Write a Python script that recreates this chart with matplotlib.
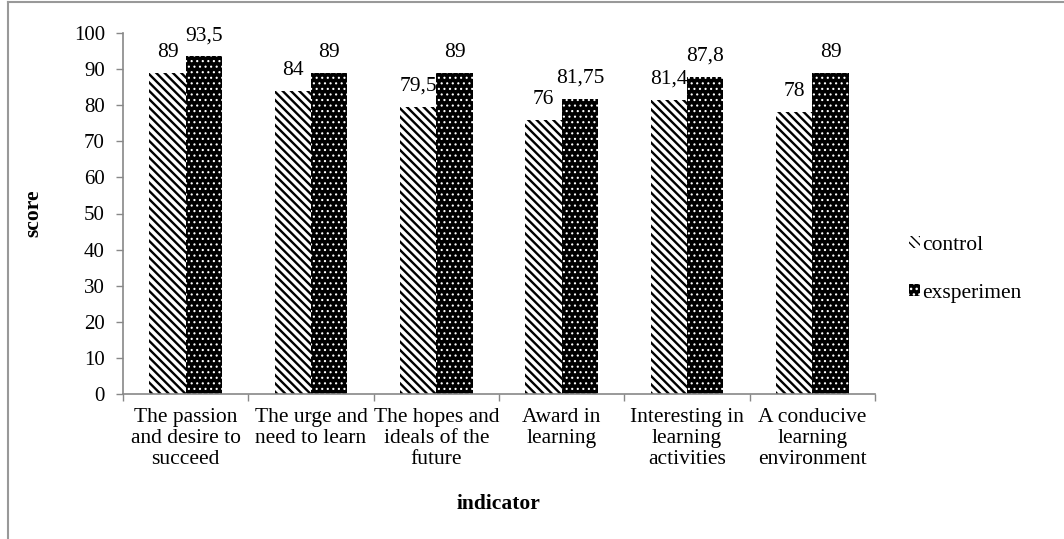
import matplotlib
matplotlib.use('Agg')
import matplotlib.pyplot as plt
import numpy as np
from matplotlib.lines import Line2D

categories = ['The passion\nand desire to\nsucceed', 'The urge and\nneed to learn',
              'The hopes and\nideals of the\nfuture', 'Award in\nlearning',
              'Interesting in\nlearning\nactivities', 'A conducive\nlearning\nenvironment']
control = [89, 84, 79.5, 76, 81.4, 78]
eksperimen = [93.5, 89, 89, 81.75, 87.8, 89]
series_names = ['control', 'exsperimen']
yticks = list(range(0, 101, 10))

plt.rcParams['font.family'] = ['Liberation Serif', 'DejaVu Serif']
fs = 15.5

fig = plt.figure(figsize=(10.64, 5.39), dpi=100)
ax = fig.add_axes([123/1064, 1 - 394/539, 752/1064, 361/539])

x = np.arange(len(categories))
w = 0.29
# hatch linewidth differs per series (stripes thick, dots small)
with plt.rc_context({'hatch.linewidth': 1.7}):
    b1 = ax.bar(x - w/2, control, w, facecolor='white', edgecolor='black', lw=0,
                hatch='\\\\\\\\', label=series_names[0])
with plt.rc_context({'hatch.linewidth': 0.8}):
    b2 = ax.bar(x + w/2, eksperimen, w, facecolor='black', edgecolor='white', lw=0,
                hatch='...', label=series_names[1])
for bars, hlw in [(b1, 1.7), (b2, 0.8)]:
    for r in bars:
        if hasattr(r, 'set_hatch_linewidth'):
            r.set_hatch_linewidth(hlw)

def fmt(v):
    return f'{v:g}'.replace('.', ',')

for bars, vals in [(b1, control), (b2, eksperimen)]:
    for r, v in zip(bars, vals):
        ax.annotate(fmt(v), (r.get_x() + r.get_width()/2, v), xytext=(0, 8),
                    textcoords='offset points', ha='center', va='bottom', fontsize=fs)

ax.set_xlim(-0.5, len(categories) - 0.5)
ax.set_ylim(0, 100)
ax.set_yticks(yticks)
ax.set_xticks(x)
ax.set_xticklabels(categories, fontsize=fs, linespacing=1.15)
ax.set_xticks(np.arange(-0.5, len(categories)), minor=True)
ax.tick_params(axis='x', which='major', length=0, pad=10)
ax.tick_params(axis='x', which='minor', length=5, color='#888888', width=1)
ax.tick_params(axis='y', length=5, color='#888888', width=1, labelsize=15, pad=8)

for s in ['top', 'right']:
    ax.spines[s].set_visible(False)
for s in ['left', 'bottom']:
    ax.spines[s].set_color('#888888')
    ax.spines[s].set_linewidth(1.2)

ax.set_ylabel('score', fontsize=fs, fontweight='bold', labelpad=22)
ax.set_xlabel('indicator', fontsize=fs, fontweight='bold', labelpad=18)

leg = ax.legend(loc='center left', bbox_to_anchor=(1.02, 0.345), frameon=False,
                fontsize=fs, handlelength=0.5, handleheight=0.5, handletextpad=0.1,
                labelspacing=1.35)

# border around the chart area
fig.add_artist(Line2D([8/1064, 8/1064], [0, 1 - 2/539], color='#999999', lw=1.5))
fig.add_artist(Line2D([8/1064, 1], [1 - 2/539, 1 - 2/539], color='#999999', lw=1.5))

fig.savefig('out.png', dpi=100)
